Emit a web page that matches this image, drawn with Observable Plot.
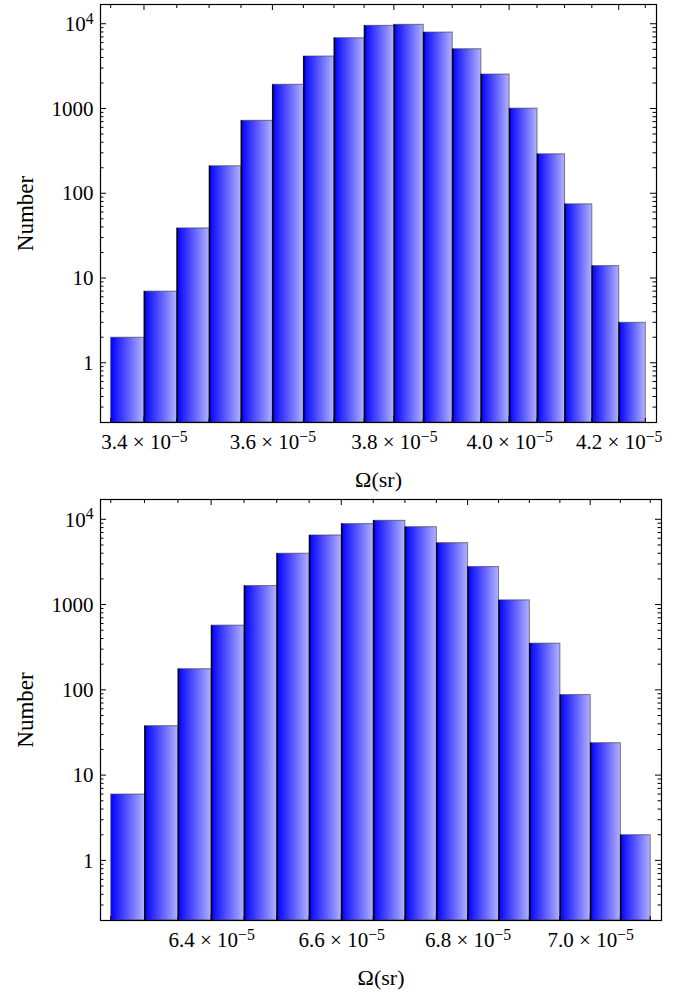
<!DOCTYPE html>
<html>
<head>
<meta charset="utf-8">
<script src="https://cdn.jsdelivr.net/npm/d3@7"></script>
<script src="https://cdn.jsdelivr.net/npm/@observablehq/plot@0.6"></script>
<style>
  body { margin: 0; background: #fff; }
  svg { display: block; }
</style>
</head>
<body>
<div id="chart"></div>
<script>
// Solid-angle bin edges (units of 1e-5 sr) and counts per bin
const topEdges = [3.35, 3.40, 3.45, 3.50, 3.55, 3.60, 3.65, 3.70, 3.75, 3.80, 3.85, 3.90, 3.95, 4.00, 4.05, 4.10, 4.15, 4.20, 4.25];
const topCounts = [2, 7, 39, 211, 725, 1930, 4160, 6840, 9570, 9840, 7980, 5070, 2550, 1010, 292, 75, 14, 3];
const topLabelTicks = [3.4, 3.6, 3.8, 4.0, 4.2];

const bottomEdges = [6.25, 6.30, 6.35, 6.40, 6.45, 6.50, 6.55, 6.60, 6.65, 6.70, 6.75, 6.80, 6.85, 6.90, 6.95, 7.00, 7.05, 7.10];
const bottomCounts = [6, 38, 177, 574, 1670, 4000, 6550, 8900, 9730, 8190, 5320, 2790, 1135, 353, 88, 24, 2];
const bottomLabelTicks = [6.4, 6.6, 6.8, 7.0];

const yLabelTicks = [1, 10, 100, 1000, 10000];
const yLabelTexts = ["1", "10", "100", "1000", "10^4"];
const xExponent = "\u22125";
const xTitle = "\u03A9(sr)";
const yTitle = "Number";

const FONT = "Liberation Serif";

function supify(svg) {
  d3.select(svg).selectAll('g[aria-label$="tick label"] text').each(function () {
    const s = this.textContent;
    const i = s.indexOf("^");
    if (i < 0) return;
    const sel = d3.select(this);
    sel.text(s.slice(0, i));
    sel.append("tspan").attr("dy", "-0.45em").attr("font-size", "0.75em").text(s.slice(i + 1));
  });
}

function decorations(gradId, edges, majors, yDomain) {
  return (index, scales, values, dims) => {
    const x = scales.x, y = scales.y;
    const x0 = dims.marginLeft, x1 = dims.width - dims.marginRight;
    const y0 = dims.marginTop, y1 = dims.height - dims.marginBottom;
    const g = d3.create("svg:g");
    const grad = g.append("defs").append("linearGradient")
      .attr("id", gradId).attr("x1", 0).attr("y1", 0).attr("x2", 1).attr("y2", 0);
    grad.append("stop").attr("offset", 0).attr("stop-color", "#0000ff");
    grad.append("stop").attr("offset", 1).attr("stop-color", "#b2b2ff");
    let p = "";
    for (const t of edges) {
      const px = x(t);
      const len = majors.some(m => Math.abs(m - t) < 1e-9) ? 6 : 4;
      p += `M${px},${y0}v${len}M${px},${y1}v${-len}`;
    }
    for (let e = -1; e <= 4; e++) {
      for (let k = 1; k <= 9; k++) {
        const v = k * Math.pow(10, e);
        if (v <= yDomain[0] * 1.0001 || v >= yDomain[1]) continue;
        const py = y(v);
        const len = k === 1 ? 6 : 3.5;
        p += `M${x0},${py}h${len}M${x1},${py}h${-len}`;
      }
    }
    g.append("path").attr("d", p).attr("fill", "none").attr("stroke", "#000").attr("stroke-width", 1);
    return g.node();
  };
}

function makeChart({edges, counts, labelTicks, yDomain, height, marginTop, marginBottom, marginRight, gradId}) {
  const bins = counts.map((c, i) => ({x1: edges[i], x2: edges[i + 1], count: c}));
  const lo = edges[0], hi = edges[edges.length - 1];
  const pad = Math.log(hi / lo) * 0.02;
  const xDomain = [lo * Math.exp(-pad), hi * Math.exp(pad)];
  const svg = Plot.plot({
    width: 694,
    height,
    marginLeft: 100,
    marginRight,
    marginTop,
    marginBottom,
    style: `font-family: '${FONT}', serif; font-size: 21px; background: #fff; color: #000;`,
    x: {type: "log", domain: xDomain},
    y: {type: "log", domain: yDomain},
    marks: [
      Plot.rect(bins, {x1: "x1", x2: "x2", y1: yDomain[0], y2: "count",
        fill: `url(#${gradId})`, stroke: "#3a3a4a", strokeOpacity: 0.65, strokeWidth: 1}),
      Plot.ruleX(bins.slice(1), {x: "x1", y1: yDomain[0], y2: "count", stroke: "#000", strokeWidth: 1.4}),
      Plot.frame({stroke: "#000", strokeWidth: 1.2}),
      decorations(gradId, edges, labelTicks, yDomain),
      Plot.axisX(labelTicks, {anchor: "bottom", tickSize: 0, tickPadding: 12, label: null,
        fontFamily: FONT, fontSize: 21,
        tickFormat: d => d.toFixed(1) + " \u00D7 10^" + xExponent}),
      Plot.axisY(yLabelTicks, {anchor: "left", tickSize: 0, tickPadding: 7, label: null,
        fontFamily: FONT, fontSize: 21,
        tickFormat: d => yLabelTexts[yLabelTicks.indexOf(d)]}),
      Plot.text([yTitle], {frameAnchor: "left", text: d => d, rotate: -90, dx: -75,
        textAnchor: "middle", fontFamily: FONT, fontSize: 23, lineAnchor: "middle"}),
      Plot.text([xTitle], {frameAnchor: "bottom", text: d => d, dy: 57,
        textAnchor: "middle", fontFamily: FONT, fontSize: 22, lineAnchor: "middle"})
    ]
  });
  supify(svg);
  return svg;
}

const root = document.getElementById("chart");
root.append(makeChart({edges: topEdges, counts: topCounts, labelTicks: topLabelTicks,
  yDomain: [0.2, 17100], height: 494, marginTop: 4, marginBottom: 72, marginRight: 38, gradId: "gradTop"}));
root.append(makeChart({edges: bottomEdges, counts: bottomCounts, labelTicks: bottomLabelTicks,
  yDomain: [0.2, 17300], height: 500, marginTop: 5, marginBottom: 74, marginRight: 33, gradId: "gradBottom"}));
</script>
</body>
</html>
